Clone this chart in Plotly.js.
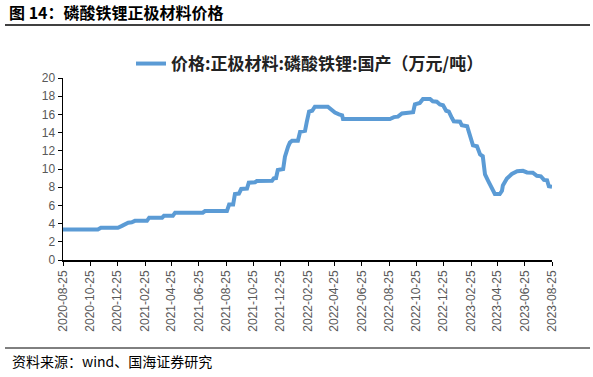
<!DOCTYPE html>
<html>
<head>
<meta charset="utf-8">
<script src="https://cdn.plot.ly/plotly-3.0.1.min.js"></script>
<style>html,body{margin:0;padding:0;background:#fff;}#chart{width:593px;height:377px;}</style>
</head>
<body>
<div id="chart"></div>
<script>
var seriesName = "价格:正极材料:磷酸铁锂:国产（万元/吨）";
var dates = [
"2020-08-25","2020-11-11","2020-11-18","2020-12-26","2021-01-04","2021-01-11","2021-01-18","2021-01-26",
"2021-02-02","2021-03-01","2021-03-06","2021-04-04","2021-04-08","2021-04-28","2021-05-03","2021-07-04",
"2021-07-09","2021-08-27","2021-09-01","2021-09-10","2021-09-14","2021-09-23","2021-09-28","2021-10-11",
"2021-10-15","2021-10-29","2021-11-02","2021-12-06","2021-12-10","2021-12-15","2021-12-19","2021-12-31",
"2022-01-04","2022-01-11","2022-01-15","2022-01-20","2022-02-02","2022-02-07","2022-02-18","2022-02-22",
"2022-02-27","2022-03-06","2022-03-12","2022-04-10","2022-04-17","2022-04-26","2022-05-05","2022-05-12",
"2022-05-14","2022-08-27","2022-09-05","2022-09-14","2022-09-23","2022-10-18","2022-10-22","2022-11-02",
"2022-11-09","2022-11-25","2022-12-01","2022-12-10","2022-12-17","2022-12-24","2022-12-31","2023-01-06",
"2023-01-13","2023-01-17","2023-01-31","2023-02-04","2023-02-16","2023-02-22","2023-03-01","2023-03-10",
"2023-03-17","2023-03-23","2023-03-28","2023-04-04","2023-04-08","2023-04-15","2023-04-19","2023-04-30",
"2023-05-05","2023-05-07","2023-05-16","2023-05-27","2023-06-08","2023-06-21","2023-06-30","2023-07-13",
"2023-07-22","2023-07-31","2023-08-07","2023-08-14","2023-08-18","2023-08-25"
];
var prices = [
3.35,3.35,3.55,3.55,3.75,3.9,4.1,4.15,
4.3,4.3,4.65,4.65,4.85,4.85,5.2,5.2,
5.38,5.38,6.1,6.1,7.25,7.3,7.8,7.85,
8.5,8.55,8.68,8.7,8.97,9.0,9.9,10.0,
11.35,12.45,12.9,13.1,13.1,14.1,14.2,15.2,
16.3,16.4,16.85,16.85,16.5,16.2,16.0,15.9,
15.5,15.5,15.7,15.75,16.1,16.25,17.1,17.25,
17.7,17.7,17.45,17.4,17.1,17.0,16.4,16.3,
15.6,15.25,15.2,14.8,14.7,13.6,12.6,12.5,
11.6,11.4,9.4,8.7,8.3,7.6,7.25,7.25,
7.6,8.2,8.95,9.45,9.75,9.8,9.62,9.6,
9.25,9.2,8.8,8.75,8.1,8.05
];
var tickVals = ["2020-08-25","2020-10-25","2020-12-25","2021-02-25","2021-04-25","2021-06-25","2021-08-25",
"2021-10-25","2021-12-25","2022-02-25","2022-04-25","2022-06-25","2022-08-25","2022-10-25","2022-12-25",
"2023-02-25","2023-04-25","2023-06-25","2023-08-25"];
var yTicks = [0,2,4,6,8,10,12,14,16,18,20];
var chartTitle = "图 14：磷酸铁锂正极材料价格";
var sourceText = "资料来源：wind、国海证券研究";

// layout geometry in pixels
var L = 63, R = 552, T = 78, B = 260, W = 593, H = 377;
function px(x){ return (x - L) / (R - L); }
function py(y){ return (B - y) / (B - T); }

var trace = {
  x: dates, y: prices, type: "scatter", mode: "lines", name: seriesName,
  line: {color: "#5B9BD5", width: 4}
};

var layout = {
  width: W, height: H,
  margin: {l: L, r: W - R, t: T, b: H - B, pad: 0},
  paper_bgcolor: "#fff", plot_bgcolor: "#fff",
  showlegend: true,
  legend: {
    orientation: "h", x: px(131), y: py(64), xanchor: "left", yanchor: "middle",
    font: {family: "Noto Sans CJK SC", size: 17, color: "#222", weight: "bold"},
    bgcolor: "rgba(0,0,0,0)", itemwidth: 30
  },
  xaxis: {
    type: "date", range: ["2020-08-25", "2023-08-25"],
    tickmode: "array", tickvals: tickVals, ticktext: tickVals,
    tickangle: -90, ticks: "outside", ticklen: 4, tickcolor: "#000", tickwidth: 1,
    showline: true, linecolor: "#000", linewidth: 1.5, showgrid: false, zeroline: false,
    tickfont: {family: "Liberation Sans", size: 12, color: "#595959"}
  },
  yaxis: {
    range: [0, 20], tickmode: "array", tickvals: yTicks,
    ticks: "outside", ticklen: 4, tickcolor: "#000", tickwidth: 1,
    showline: true, linecolor: "#000", linewidth: 1.5, showgrid: false, zeroline: false,
    tickfont: {family: "Liberation Sans", size: 12, color: "#595959"}
  },
  shapes: [
    {type: "line", xref: "paper", yref: "paper", x0: px(5), x1: px(590), y0: py(25), y1: py(25),
     line: {color: "#000", width: 1.5}},
    {type: "line", xref: "paper", yref: "paper", x0: px(5), x1: px(590), y0: py(348), y1: py(348),
     line: {color: "#000", width: 1}}
  ],
  annotations: [
    {text: chartTitle, xref: "paper", yref: "paper", x: px(7), y: py(12), xanchor: "left", yanchor: "middle",
     showarrow: false, font: {family: "Noto Sans CJK SC", size: 16, color: "#000", weight: "bold"}},
    {text: sourceText, xref: "paper", yref: "paper", x: px(10), y: py(361), xanchor: "left", yanchor: "middle",
     showarrow: false, font: {family: "Noto Sans CJK SC", size: 14, color: "#000"}}
  ]
};

Plotly.newPlot("chart", [trace], layout, {displayModeBar: false, staticPlot: true});
</script>
</body>
</html>
